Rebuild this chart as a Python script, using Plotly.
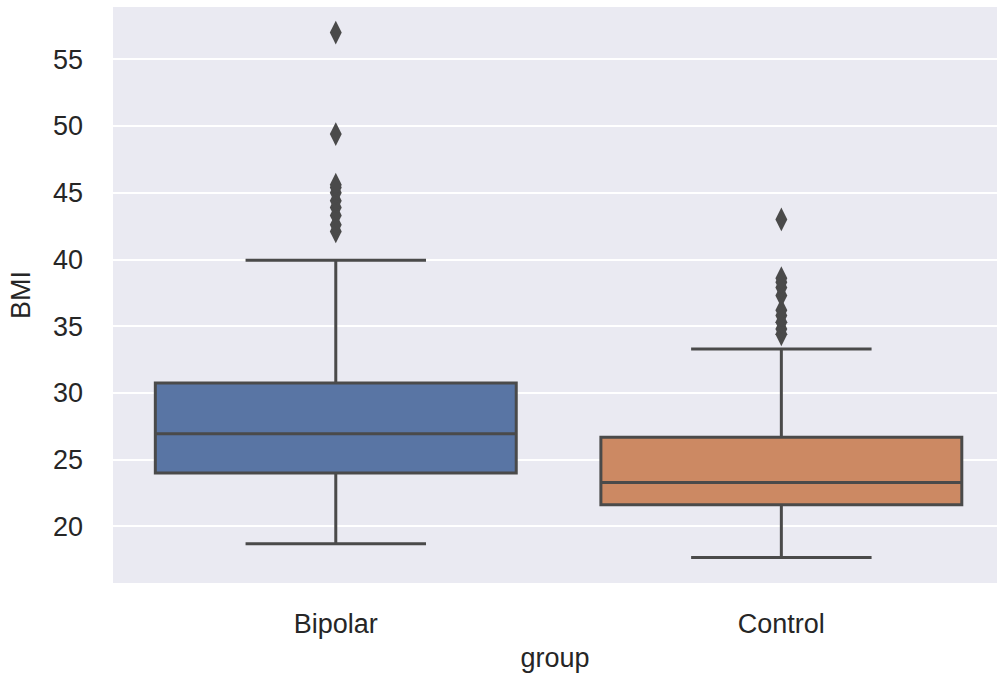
import plotly.graph_objects as go

groups = ["Bipolar", "Control"]
q1 = [24.0, 21.62]
median = [26.94, 23.29]
q3 = [30.74, 26.69]
lower_whisker = [18.7, 17.68]
upper_whisker = [39.95, 33.3]
bipolar_outliers = [42.1, 42.6, 43.3, 43.9, 44.4, 45.0, 45.4, 45.6, 49.4, 57.0]
control_outliers = [34.4, 34.8, 35.3, 35.8, 36.2, 37.3, 37.9, 38.3, 38.6, 43.0]
fill_colors = ["#5975a4", "#cc8963"]
y_ticks = [20, 25, 30, 35, 40, 45, 50, 55]

line_col = "#4a4a4a"
text_col = "#262626"

fig = go.Figure()
for i, g in enumerate(groups):
    fig.add_trace(go.Box(
        x=[g], q1=[q1[i]], median=[median[i]], q3=[q3[i]],
        lowerfence=[lower_whisker[i]], upperfence=[upper_whisker[i]],
        fillcolor=fill_colors[i], line=dict(color=line_col, width=3),
        width=0.81, whiskerwidth=0.5, boxpoints=False, showlegend=False,
    ))

for g, outs in zip(groups, [bipolar_outliers, control_outliers]):
    fig.add_trace(go.Scatter(
        x=[g] * len(outs), y=outs, mode="markers",
        marker=dict(symbol="diamond-tall", size=17, color=line_col,
                    line=dict(width=0)),
        showlegend=False,
    ))

fig.update_layout(
    width=997, height=679,
    margin=dict(l=113, r=0, t=7, b=96),
    paper_bgcolor="white", plot_bgcolor="#eaeaf2",
    font=dict(family="Liberation Sans, Arial, sans-serif", size=27, color=text_col),
)
fig.update_xaxes(
    type="category", categoryorder="array", categoryarray=groups,
    range=[-0.5, 1.484], showgrid=False, zeroline=False, showline=False,
    ticks="", ticklabelstandoff=22,
    title=dict(text="group", standoff=10, font=dict(size=27, color=text_col)),
)
fig.update_yaxes(
    range=[15.76, 58.92], tickvals=y_ticks, ticktext=[str(t) for t in y_ticks],
    showgrid=True, gridcolor="white", gridwidth=2, zeroline=False, showline=False,
    ticks="", ticklabelstandoff=29,
    title=dict(text="BMI", standoff=14, font=dict(size=27, color=text_col)),
)

fig.write_html("out.html")
